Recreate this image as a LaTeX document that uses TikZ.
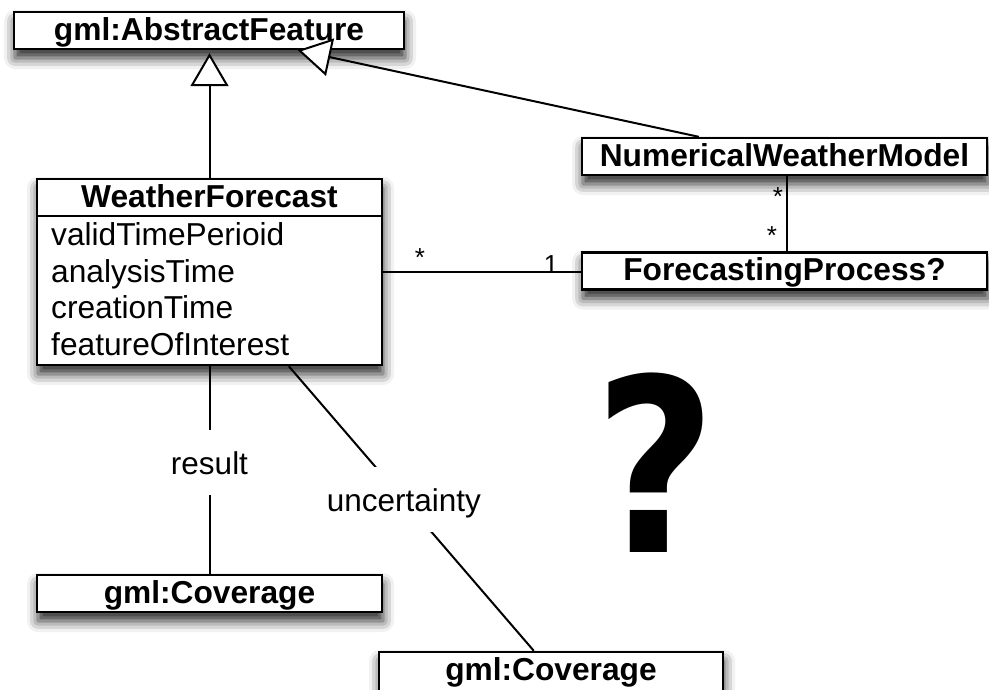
\documentclass[tikz,border=0pt]{standalone}
\usepackage{graphicx}
\usepackage{fontspec}
\setmainfont{Liberation Sans}
\newfontfamily\qmfont{DejaVu Sans}
\usetikzlibrary{arrows.meta,calc,shadows.blur}

\begin{document}
\begin{tikzpicture}[x=1pt,y=-1pt,
  classbox/.style={draw, line width=2.4pt, fill=white, inner sep=0pt,
    font=\bfseries\fontsize{31.7}{36}\selectfont, text height=23pt, text depth=4pt,
    blur shadow={shadow xshift=1pt, shadow yshift=-9pt, shadow blur radius=11pt, shadow opacity=85}},
  classtext/.style={inner sep=0pt, font=\bfseries\fontsize{31.7}{36}\selectfont, text height=23pt, text depth=4pt},
  attr/.style={inner sep=0pt, anchor=base west, font=\fontsize{31.7}{36}\selectfont},
  link/.style={line width=2pt},
  inherit/.style={link, -{Triangle[fill=white, length=33pt, width=38pt, line join=miter]}},
  lbl/.style={font=\fontsize{31.5}{36}\selectfont, inner sep=0pt, text height=23pt, text depth=0pt, fill=white},
  mult/.style={font=\fontsize{26}{28}\selectfont, inner sep=0pt, anchor=base}
]
\useasboundingbox (0,0) rectangle (989,689);

% classes
\node[classbox, minimum width=390pt, minimum height=37pt] (af) at (209,30.5) {gml:AbstractFeature};
\node[classbox, minimum width=405pt, minimum height=37pt] (nwm) at (784.5,156.5) {NumericalWeatherModel};
\node[classbox, minimum width=405pt, minimum height=37pt] (fp) at (784.5,271) {ForecastingProcess?};
\node[classbox, minimum width=345pt, minimum height=186pt] (wf) at (209.5,272) {};
\node[classbox, minimum width=345pt, minimum height=37pt] (cov1) at (209.5,593.5) {gml:Coverage};
\node[classbox, minimum width=344pt, minimum height=39pt] (cov2) at (551,671.5) {};
\node[classtext] (cov2name) at (551,670.5) {gml:Coverage};

% WeatherForecast compartments
\draw[line width=2.4pt] (wf.west |- 0,216) -- (wf.east |- 0,216);
\node[classtext] (wfname) at (209.5,197.5) {WeatherForecast};
\node[attr] (a1) at (51,245) {validTimePerioid};
\node[attr] (a2) at (51,282) {analysisTime};
\node[attr] (a3) at (51,318) {creationTime};
\node[attr] (a4) at (51,355) {featureOfInterest};

% generalizations
\draw[inherit, shorten >=3pt] (wf.north) -- (wf.north |- af.south);
\coordinate (nwmtop) at ($(nwm.north west)+(118,0)$);
\coordinate (aftip) at ($(af.south west)+(285,0)$);
\draw[inherit] (nwmtop) -- (aftip);

% associations
\coordinate (nwmbot) at ($(nwm.south west)+(206,0)$);
\draw[link] (nwmbot) -- (nwmbot |- fp.north);
\node[mult] (m1) at (778,205) {*};
\node[mult] (m2) at (772,244) {*};

\draw[link] (wf.east) -- (wf.east -| fp.west);
\node[mult] (m3) at (420,266) {*};
\node[mult] (m4) at (551,273) {1};

\draw[link] (wf.south) -- node[lbl, pos=0.464, minimum height=65pt] (res) {result} (wf.south |- cov1.north);

\coordinate (wfu) at ($(wf.south west)+(253,0)$);
\coordinate (covu) at ($(cov2.north west)+(156,0)$);
\draw[link] (wfu) -- node[lbl, pos=0.47, minimum height=65pt] (unc) {uncertainty} (covu);

% open question
\node[inner sep=0pt, anchor=base, font=\qmfont\bfseries\fontsize{242}{242}\selectfont] (qm) at (656,552) {\scalebox{0.87}[1]{?}};
\end{tikzpicture}
\end{document}
